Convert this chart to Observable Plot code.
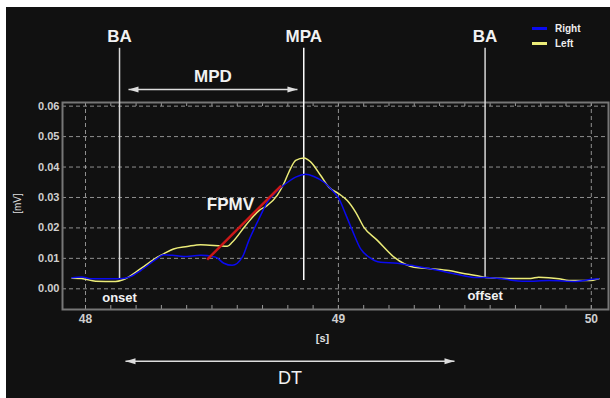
<!DOCTYPE html>
<html><head><meta charset="utf-8">
<script src="https://cdn.jsdelivr.net/npm/d3@7"></script>
<script src="https://cdn.jsdelivr.net/npm/@observablehq/plot@0.6"></script>
<style>
html,body{margin:0;padding:0;background:#fff;width:610px;height:398px;overflow:hidden;}
#wrap{position:absolute;left:6px;top:7px;width:604px;height:391px;background:#111;}
#legend{position:absolute;left:526px;top:14px;font:bold 10px "Liberation Sans",Arial,sans-serif;color:#eee;}
#legend div{height:15px;display:flex;align-items:center;}
#legend span.sw{display:inline-block;width:15px;height:3px;margin-right:8px;}
</style></head><body>
<div id="wrap"><div id="legend"></div></div>
<script>
// Series: time [s] and amplitude [mV]
const rightT = [47.947,47.984,48.020,48.134,48.178,48.218,48.284,48.309,48.344,48.388,48.455,48.514,48.547,48.580,48.620,48.646,48.686,48.719,48.752,48.791,48.831,48.870,48.903,48.943,48.976,49.002,49.028,49.055,49.088,49.121,49.167,49.233,49.286,49.365,49.437,49.490,49.543,49.582,49.741,49.833,49.938,50.004,50.029];
const rightV = [0.0036,0.0039,0.0033,0.0033,0.0040,0.0060,0.0100,0.0112,0.0110,0.0106,0.0110,0.0104,0.0084,0.0077,0.0104,0.0159,0.0230,0.0285,0.0317,0.0345,0.0367,0.0376,0.0369,0.0350,0.0323,0.0296,0.0246,0.0192,0.0131,0.0104,0.0087,0.0084,0.0077,0.0066,0.0053,0.0044,0.0037,0.0037,0.0025,0.0027,0.0024,0.0031,0.0033];
const leftT = [47.947,47.984,48.040,48.119,48.146,48.218,48.284,48.309,48.348,48.402,48.455,48.561,48.580,48.633,48.686,48.719,48.758,48.784,48.804,48.831,48.864,48.890,48.930,48.962,49.002,49.035,49.068,49.101,49.154,49.220,49.299,49.365,49.437,49.490,49.543,49.582,49.673,49.760,49.792,49.872,49.912,49.991,50.030];
const leftV = [0.0035,0.0034,0.0025,0.0024,0.0029,0.0066,0.0104,0.0115,0.0131,0.0139,0.0145,0.0140,0.0153,0.0208,0.0257,0.0274,0.0307,0.0345,0.0383,0.0422,0.0430,0.0417,0.0372,0.0334,0.0312,0.0290,0.0252,0.0202,0.0159,0.0104,0.0071,0.0066,0.0060,0.0051,0.0044,0.0037,0.0034,0.0034,0.0038,0.0033,0.0027,0.0027,0.0033];
const seriesNames = ["Right","Left"];
const seriesColors = ["#0a0af0","#ecec78"];

// Event markers
const eventLabels = ["BA","MPA","BA"];
const eventT = [48.1345,48.863,49.580];
const eventV = [0.0031,0.0027,0.0037];
const eventBelow = ["onset","","offset"];

// FPMV slope segment
const fpmvT = [48.481,48.774];
const fpmvV = [0.0096,0.0339];

// Duration arrows
const durLabels = ["MPD","DT"];
const durStart = [48.170,48.158];
const durEnd = [48.838,49.459];

// Axis ticks
const xTicks = [48,49,50];
const yTicks = [0,0.01,0.02,0.03,0.04,0.05,0.06];
const xMinor = d3.range(48,50.05,0.1).map(d=>+d.toFixed(1));

const right = rightT.map((t,i)=>({t, v:rightV[i], s:"Right"}));
const left = leftT.map((t,i)=>({t, v:leftV[i], s:"Left"}));
const events = eventT.map((t,i)=>({t, v:eventV[i], label:eventLabels[i], below:eventBelow[i]}));
const fpmv = [{t1:fpmvT[0], v1:fpmvV[0], t2:fpmvT[1], v2:fpmvV[1]}];
const durs = durLabels.map((l,i)=>({label:l, a:durStart[i], b:durEnd[i]}));

const headR = {draw(ctx){ctx.moveTo(0,0);ctx.lineTo(-10,-3);ctx.lineTo(-10,3);ctx.closePath();}};
const headL = {draw(ctx){ctx.moveTo(0,0);ctx.lineTo(10,-3);ctx.lineTo(10,3);ctx.closePath();}};

const lineTop = 0.0790, labelY = 0.0829;
const durY = {MPD:0.0655, DT:-0.0238};
const durLabelY = {MPD:0.0698, DT:-0.0295};
const font = "Liberation Sans, Arial, sans-serif";
const frameH = 391-95-89;

const chart = Plot.plot({
  width:604, height:391,
  marginLeft:56, marginRight:2, marginTop:95, marginBottom:89,
  style:{background:"#111", color:"#ddd", fontFamily:font, overflow:"visible"},
  x:{domain:[47.909,50.068]},
  y:{domain:[-0.0068,0.0612]},
  marks:[
    Plot.gridX(xTicks,{stroke:"#bbb", strokeOpacity:0.75, strokeDasharray:"4,3"}),
    Plot.gridY(yTicks,{stroke:"#bbb", strokeOpacity:0.75, strokeDasharray:"4,3"}),
    Plot.ruleX(xMinor,{x:d=>d, insetTop:frameH-4, stroke:"#999"}),
    Plot.ruleX(xMinor,{x:d=>d, insetBottom:frameH-4, stroke:"#999"}),
    Plot.frame({stroke:"#777", strokeWidth:2}),
    Plot.axisX({ticks:xTicks, tickSize:0, tickPadding:5, tickFormat:d=>d, label:null, fontSize:12, fontWeight:"bold", fill:"#cfcfcf"}),
    Plot.axisY({ticks:yTicks, tickSize:0, tickPadding:3, tickFormat:d3.format(".2f"), label:null, fontSize:11, fontWeight:"bold", fill:"#cfcfcf"}),
    Plot.text(["[s]"],{x:48.937, y:-0.0163, text:d=>d, fill:"#e0e0e0", fontSize:11, fontWeight:"bold"}),
    Plot.text(["[mV]"],{x:47.731, y:0.028, text:d=>d, fill:"#e0e0e0", fontSize:10, rotate:-90}),
    Plot.ruleX(events,{x:"t", y1:"v", y2:()=>lineTop, stroke:(d,i)=>i===1?"#fff":"#d8d8d8", strokeWidth:1.5}),
    Plot.line(left,{x:"t", y:"v", stroke:seriesColors[1], strokeWidth:1.5, curve:"monotone-x"}),
    Plot.line(right,{x:"t", y:"v", stroke:seriesColors[0], strokeWidth:1.5, curve:"monotone-x"}),
    Plot.link(fpmv,{x1:"t1", y1:"v1", x2:"t2", y2:"v2", stroke:"#cc1818", strokeWidth:2.5}),
    Plot.text(events,{x:"t", y:()=>labelY, text:"label", fill:"#f2f2f2", fontSize:17, fontWeight:"bold"}),
    Plot.text(events,{x:"t", y:"v", dy:18, text:"below", fill:"#f2f2f2", fontSize:13, fontWeight:"bold"}),
    Plot.text(["FPMV"],{x:48.573, y:0.0277, text:d=>d, fill:"#f2f2f2", fontSize:17, fontWeight:"bold"}),
    Plot.link(durs,{x1:"a", x2:"b", y1:d=>durY[d.label], y2:d=>durY[d.label], stroke:"#ddd", strokeWidth:1.5}),
    Plot.dot(durs,{x:"a", y:d=>durY[d.label], symbol:headL, fill:"#ddd", stroke:"none"}),
    Plot.dot(durs,{x:"b", y:d=>durY[d.label], symbol:headR, fill:"#ddd", stroke:"none"}),
    Plot.text(durs.filter(d=>d.label==="MPD"),{x:d=>(d.a+d.b)/2, y:d=>durLabelY[d.label], text:"label", fill:"#f2f2f2", fontSize:17, fontWeight:"bold"}),
    Plot.text(durs.filter(d=>d.label==="DT"),{x:d=>(d.a+d.b)/2, y:d=>durLabelY[d.label], text:"label", fill:"#f2f2f2", fontSize:18})
  ]
});
document.getElementById("wrap").appendChild(chart);
const lg = document.getElementById("legend");
seriesNames.forEach((n,i)=>{
  const row = document.createElement("div");
  row.innerHTML = `<span class="sw" style="background:${seriesColors[i]}"></span>${n}`;
  lg.appendChild(row);
});
</script>
</body></html>
